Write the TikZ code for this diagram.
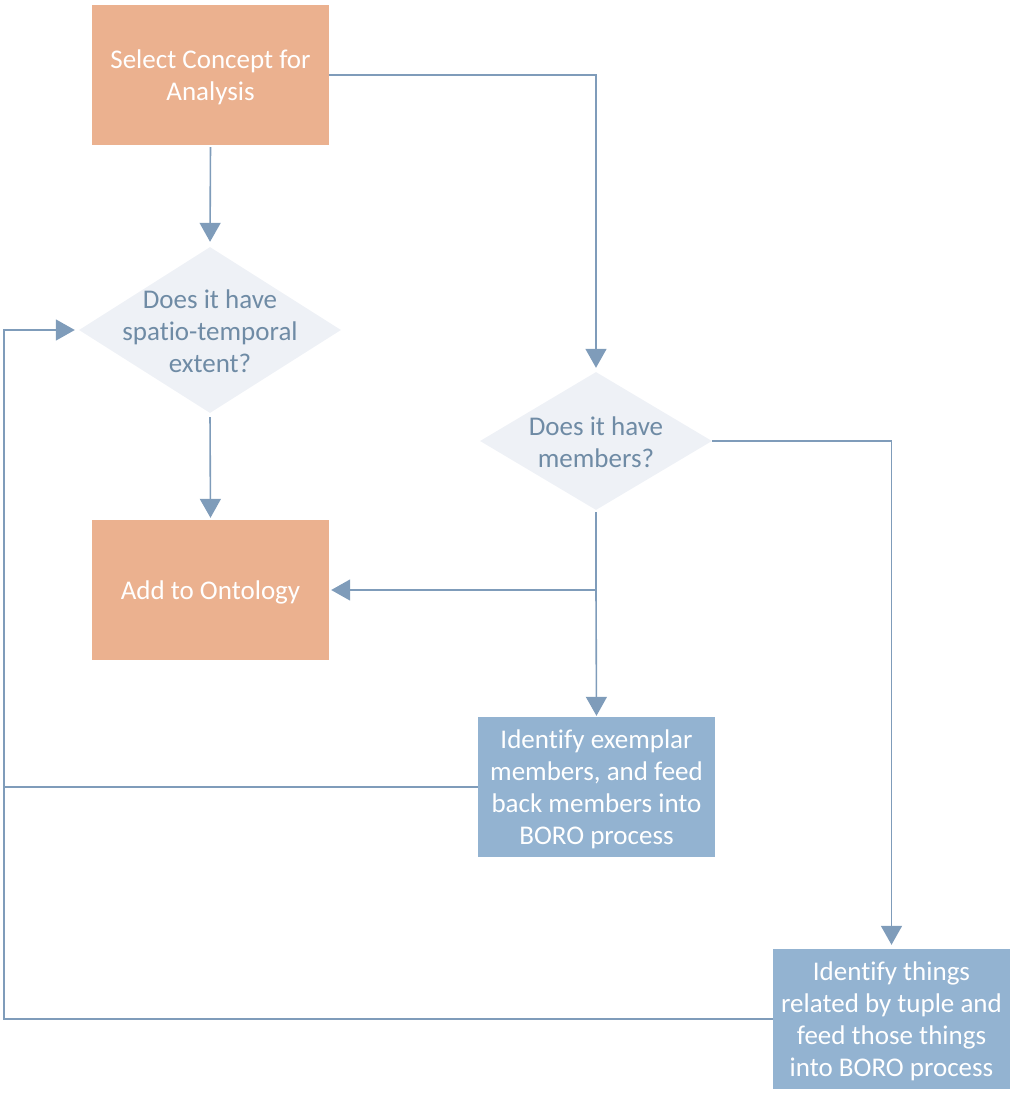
\documentclass[tikz,border=0pt]{standalone}
\usepackage{fontspec}
\setmainfont{Carlito}[Ligatures=NoCommon]
\usetikzlibrary{shapes.geometric,arrows.meta}
\definecolor{orangebox}{HTML}{EBB18F}
\definecolor{bluebox}{HTML}{93B3D1}
\definecolor{diafill}{HTML}{EEF1F6}
\definecolor{diatext}{HTML}{6F8BA5}
\definecolor{conn}{HTML}{7F9CBA}
\tikzset{
  boxbase/.style={rectangle, minimum width=237pt, minimum height=140pt, inner sep=0pt,
    align=center, text=white, font=\fontsize{27}{32}\selectfont},
  obox/.style={boxbase, fill=orangebox},
  bbox/.style={boxbase, fill=bluebox},
  boxtxt/.style={align=center, text=white, font=\fontsize{27}{32}\selectfont},
  dia/.style={diamond, fill=diafill, inner sep=0pt},
  diatxt/.style={align=center, text=diatext, font=\fontsize{27}{32}\selectfont},
  conline/.style={draw=conn, line width=1.6pt},
  arr/.style={conline, -{Triangle[width=21pt,length=19pt]}},
}
\begin{document}
\begin{tikzpicture}[x=1pt,y=-1pt]
\useasboundingbox (0,0) rectangle (1024,1098);
\node[obox] (b1) at (210.5,75) {};
\node[boxtxt] at ([yshift=-2pt]b1.center) {Select Concept for\\Analysis};
\node[obox] (b2) at (210.5,590) {};
\node[boxtxt] at ([yshift=-2pt]b2.center) {Add to Ontology};
\node[bbox] (b3) at (596.5,787) {};
\node[boxtxt] at ([yshift=-2pt]b3.center) {Identify exemplar\\members, and feed\\back members into\\BORO process};
\node[bbox] (b4) at (891.5,1019) {};
\node[boxtxt] at ([yshift=-2pt]b4.center) {Identify things\\related by tuple and\\feed those things\\into BORO process};
\node[dia, minimum width=262pt, minimum height=166pt] (d1) at (210,330) {};
\node[diatxt] at ([yshift=-1pt]d1.center) {Does it have\\spatio-temporal\\extent?};
\node[dia, minimum width=232pt, minimum height=138pt] (d2) at (596,441) {};
\node[diatxt] at ([yshift=-1pt]d2.center) {Does it have\\members?};
\coordinate (loop) at (4,330);
\coordinate (junc) at (596,590);
\draw[arr, shorten <=2pt, shorten >=5pt] (b1.south) -- (d1.north);
\draw[arr, shorten >=4pt] (b1.east) -| (d2.north);
\draw[arr, shorten <=4pt, shorten >=2pt] (d1.south) -- (b2.north);
\draw[conline, shorten <=2pt] (d2.south) -- (junc);
\draw[arr, shorten >=2pt] (junc) -- (b2.east);
\draw[arr, shorten >=1pt] (junc) -- (b3.north);
\draw[arr, shorten >=4pt] (d2.east) -| (b4.north);
\draw[conline] (b4.west) -| (loop);
\draw[arr, shorten >=4pt] (b3.west) -| (loop) -- (d1.west);
\end{tikzpicture}
\end{document}
